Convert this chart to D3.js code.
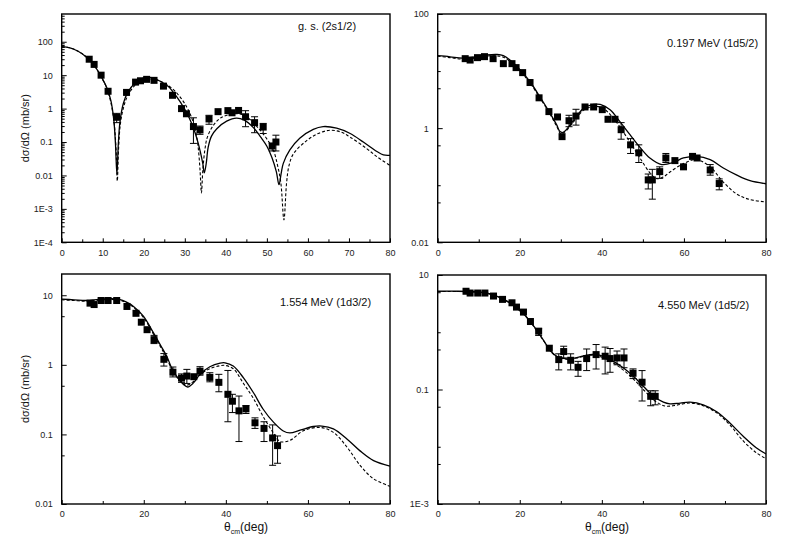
<!DOCTYPE html>
<html><head><meta charset="utf-8">
<script src="https://cdn.jsdelivr.net/npm/d3@7"></script>
<style>body{margin:0;background:#fff}svg{display:block}text{font-family:Arial,"Liberation Sans",sans-serif}</style>
</head><body>
<svg id="chart" width="786" height="548"></svg>
<script>
// ---------- Panel 1: g.s. (2s1/2) ----------
const p1DataX = [6.7, 7.9, 9.6, 11.3, 13.4, 15.8, 18.0, 19.2, 20.7, 22.5, 24.8, 27.0, 29.2, 30.4, 32.1, 33.7, 35.9, 38.1, 40.5, 41.5, 43.1, 44.8, 47.0, 49.1, 51.3, 52.2];
const p1DataY = [30, 21, 10, 3.3, 0.55, 3.05, 6.2, 6.8, 7.5, 7.0, 4.7, 2.5, 1.0, 0.70, 0.29, 0.23, 0.49, 0.81, 0.87, 0.75, 0.88, 0.57, 0.38, 0.28, 0.076, 0.10];
const p1ErrLo = [null,null,null,null,0.38,null,null,null,null,null,null,null,null,null,0.091,0.17,0.34,null,null,null,null,0.287,0.19,0.18,0.054,0.054];
const p1ErrHi = [null,null,null,null,0.72,null,null,null,null,null,null,null,null,null,0.53,0.30,0.63,null,null,null,null,0.865,0.57,0.36,0.091,0.16];
const p1Solid = [[0,71],[2,66],[4,52],[6,35],[8,19],[10,7.5],[11,4.2],[12,1.7],[12.7,0.45],[13.1,0.09],[13.45,0.011],[13.8,0.09],[14.2,0.4],[15,1.4],[16,2.9],[18,6.0],[20,8.3],[21,8.6],[22,8.4],[24,6.6],[26,4.6],[27,3.3],[28,2.3],[29,1.5],[30,0.95],[31,0.55],[32,0.28],[33,0.12],[33.8,0.05],[34.4,0.022],[34.75,0.012],[35.2,0.022],[35.7,0.07],[36.5,0.15],[37.8,0.25],[40.2,0.42],[42.6,0.52],[44.5,0.45],[46.7,0.27],[48.5,0.14],[50,0.075],[51.2,0.035],[52.3,0.013],[52.95,0.0053],[53.5,0.012],[54,0.023],[55.6,0.058],[58,0.13],[61.3,0.24],[63.7,0.29],[67,0.26],[70.3,0.18],[73.5,0.10],[76.8,0.052],[78.4,0.041],[80,0.040]];
const p1Dashed = [[0,71],[2,66],[4,52],[6,35],[8,19],[10,7.3],[11,4.0],[12,1.5],[12.8,0.35],[13.25,0.06],[13.55,0.0068],[13.85,0.06],[14.3,0.35],[15,1.0],[16,2.3],[18,5.2],[20,7.2],[21.5,7.6],[23,7.2],[25,5.8],[27,3.9],[29,2.1],[30.5,1.1],[31.5,0.6],[32.5,0.25],[33.2,0.08],[33.7,0.015],[34.05,0.003],[34.4,0.015],[34.9,0.06],[35.5,0.14],[37,0.32],[39,0.55],[42.7,0.70],[45,0.57],[48.3,0.23],[50.5,0.1],[51.6,0.057],[52.6,0.02],[53.4,0.006],[54.15,0.00047],[54.8,0.006],[55.4,0.02],[56.5,0.045],[59.7,0.11],[62.5,0.18],[65.4,0.225],[68,0.2],[70.3,0.14],[74.3,0.064],[77,0.035],[80,0.020]];
const p1YTicks = [100, 10, 1, 0.1, 0.01, 1e-3, 1e-4];
const p1YLabels = ["100", "10", "1", "0.1", "0.01", "1E-3", "1E-4"];
const p1XTicks = [0, 10, 20, 30, 40, 50, 60, 70, 80];

// ---------- Panel 2: 0.197 MeV (1d5/2) ----------
const p2DataX = [6.7, 7.9, 9.7, 11.4, 13.5, 16.0, 18.1, 19.1, 20.7, 22.5, 24.7, 27.1, 29.2, 30.3, 32.0, 33.7, 35.9, 38.0, 40.1, 41.5, 43.2, 44.7, 47.0, 49.0, 51.3, 52.3, 54.1, 55.6, 57.8, 59.9, 62.1, 63.2, 66.4, 68.6];
const p2DataY = [16.5, 15.6, 17.2, 17.9, 16.5, 13.5, 13.5, 11.5, 9.4, 6.3, 3.4, 1.95, 1.57, 0.71, 1.35, 1.63, 2.35, 2.35, 2.11, 1.43, 1.43, 0.94, 0.51, 0.37, 0.124, 0.124, 0.173, 0.30, 0.27, 0.21, 0.32, 0.30, 0.185, 0.107];
const p2ErrLo = [null,null,null,null,null,null,null,null,null,null,null,null,null,null,1.06,1.13,null,null,null,null,null,0.64,0.36,0.25,0.086,0.057,0.132,0.25,null,null,null,null,0.15,0.083];
const p2ErrHi = [null,null,null,null,null,null,null,null,null,null,null,null,null,null,1.68,2.14,null,null,null,null,null,1.25,0.655,0.51,0.157,0.19,0.21,0.36,null,null,null,null,0.23,0.129];
const p2Solid = [[0,18.6],[3,17.8],[6,16.8],[9,17.6],[12,19.2],[14.5,19.6],[16,18.6],[17.6,15.6],[20,10.7],[22.5,6.5],[24.9,3.55],[27.4,1.82],[29,1.14],[29.8,0.87],[30.5,0.84],[31.4,0.95],[33.5,1.5],[35.5,2.2],[37.9,2.6],[39.6,2.6],[42,2.1],[44.4,1.3],[46.9,0.76],[49.3,0.46],[51.7,0.30],[54.6,0.23],[57.4,0.25],[59.9,0.30],[63.1,0.32],[66.4,0.28],[69.6,0.2],[72.9,0.15],[76.1,0.12],[80,0.106]];
const p2Dashed = [[0,18.2],[3,17.2],[6,16.2],[9,16.8],[12,18.3],[14.5,18.5],[16,17.5],[17.6,14.8],[20,10.2],[22.5,6.2],[24.9,3.4],[27.4,1.75],[29,1.08],[30,0.8],[31,0.86],[33.5,1.4],[35.5,2.05],[38,2.4],[40,2.3],[42,1.75],[44.4,1.05],[46.9,0.56],[49.3,0.3],[51.7,0.165],[53.4,0.13],[55,0.14],[56.6,0.17],[59.9,0.24],[63.1,0.28],[66.4,0.21],[69.6,0.113],[72.9,0.07],[76.1,0.056],[80,0.051]];
const p2YTicks = [100, 1, 0.01];
const p2YLabels = ["100", "1", "0.01"];
const p2YMinor = [50, 10, 5, 0.5, 0.1, 0.05];
const p2XTicks = [0, 20, 40, 60, 80];

// ---------- Panel 3: 1.554 MeV (1d3/2) ----------
const p3DataX = [6.9, 7.9, 9.6, 11.3, 13.4, 15.9, 18.1, 19.4, 20.8, 22.5, 24.9, 27.1, 29.2, 30.5, 32.2, 33.7, 36.1, 38.3, 40.5, 41.6, 43.2, 44.9, 47.1, 49.3, 51.4, 52.6];
const p3DataY = [7.7, 7.35, 8.4, 8.4, 8.4, 6.9, 5.5, 4.1, 3.2, 2.3, 1.2, 0.785, 0.645, 0.69, 0.675, 0.81, 0.66, 0.56, 0.377, 0.30, 0.218, 0.233, 0.147, 0.122, 0.089, 0.069];
const p3ErrLo = [null,null,null,null,null,null,null,null,null,2.02,0.96,0.67,0.56,0.54,null,0.71,0.57,0.41,0.152,0.206,0.079,0.2,0.122,0.079,0.036,0.0385];
const p3ErrHi = [null,null,null,null,null,null,null,null,null,2.65,1.45,0.93,0.74,0.86,null,0.94,0.77,0.73,0.83,0.377,0.356,0.26,0.173,0.152,0.137,0.095];
const p3Solid = [[0,8.8],[3,8.6],[6,8.4],[9,8.7],[12,8.9],[14,8.7],[15.8,7.95],[17.5,6.9],[19.9,5.0],[22.3,2.93],[24,1.95],[25.6,1.33],[26.8,0.9],[28,0.69],[29.7,0.52],[30.7,0.48],[32.1,0.55],[33.7,0.73],[36.1,0.94],[38.6,1.06],[39.8,1.07],[41.8,0.96],[44.3,0.65],[46.7,0.4],[49.1,0.23],[51.6,0.15],[54,0.112],[55.6,0.105],[58.1,0.115],[61.3,0.13],[63.4,0.132],[66.2,0.12],[69.5,0.086],[72.7,0.058],[76,0.042],[80,0.035]];
const p3Dashed = [[0,8.6],[3,8.4],[6,8.2],[9,8.5],[12,8.7],[14,8.5],[15.8,7.8],[17.5,6.7],[19.9,4.8],[22.3,2.8],[24,1.85],[25.6,1.25],[26.8,0.86],[28,0.67],[29.7,0.53],[30.5,0.51],[32,0.57],[33.7,0.72],[36.1,0.88],[38.6,0.97],[39.8,0.98],[41.8,0.88],[44.3,0.54],[46.7,0.33],[49.1,0.18],[51.6,0.105],[53.2,0.079],[55.6,0.082],[58.9,0.113],[63,0.126],[66.2,0.107],[69.5,0.066],[72.7,0.036],[76,0.023],[80,0.018]];
const p3YTicks = [10, 1, 0.1, 0.01];
const p3YLabels = ["10", "1", "0.1", "0.01"];
const p3YMinor = [5, 0.5, 0.05];
const p3XTicks = [0, 20, 40, 60, 80];

// ---------- Panel 4: 4.550 MeV (1d5/2) ----------
const p4DataX = [6.9, 7.9, 9.75, 11.5, 13.6, 15.8, 18.1, 19.2, 20.9, 22.6, 24.6, 27.2, 29.5, 30.7, 32.4, 34.2, 36.3, 38.6, 40.8, 42.0, 43.7, 45.4, 47.6, 49.8, 51.9, 53.0];
const p4DataY = [5.2, 4.84, 4.84, 4.84, 4.29, 3.75, 3.27, 2.75, 2.25, 1.54, 1.045, 0.526, 0.333, 0.46, 0.324, 0.244, 0.347, 0.407, 0.381, 0.347, 0.356, 0.356, 0.192, 0.134, 0.076, 0.076];
const p4ErrLo = [null,null,null,null,null,null,null,null,null,null,0.88,null,0.22,0.356,0.22,0.17,0.214,0.228,0.187,0.2,0.27,0.24,0.155,0.063,0.052,0.054];
const p4ErrHi = [null,null,null,null,null,null,null,null,null,null,1.15,null,0.42,0.57,0.42,0.31,0.51,0.61,0.55,0.52,0.47,0.51,0.229,0.214,0.095,0.095];
const p4Solid = [[0,5.2],[5,5.2],[9,5.1],[11.5,4.9],[13.6,4.5],[16,3.8],[18.4,2.98],[20.9,2.1],[22.5,1.56],[24.1,1.09],[25.8,0.72],[27.4,0.48],[29,0.38],[30.6,0.35],[31.8,0.34],[33.9,0.36],[36.3,0.40],[37.9,0.41],[40.4,0.38],[42.8,0.31],[45.2,0.24],[47.7,0.17],[50.1,0.114],[52.6,0.076],[55,0.06],[56.6,0.056],[59.1,0.058],[61.5,0.06],[64.7,0.054],[68,0.041],[71.2,0.026],[74.5,0.0151],[77.7,0.0095],[80,0.0075]];
const p4Dashed = [[0,5.15],[5,5.15],[9,5.05],[11.5,4.85],[13.6,4.45],[16,3.75],[18.4,2.95],[20.9,2.08],[22.5,1.54],[24.1,1.07],[25.8,0.71],[27.4,0.475],[29,0.375],[30.6,0.345],[31.8,0.338],[33.9,0.355],[36.3,0.39],[37.9,0.395],[40.4,0.36],[42.8,0.29],[45.2,0.22],[47.7,0.152],[50.1,0.1],[52.6,0.066],[54.5,0.054],[55.8,0.051],[58,0.053],[61.5,0.058],[64.7,0.052],[68,0.039],[71.2,0.024],[74.5,0.0125],[77.7,0.0078],[80,0.0062]];
const p4YTicks = [10, 0.1, 1e-3];
const p4YLabels = ["10", "0.1", "1E-3"];
const p4YMinor = [5, 1, 0.5, 0.05, 0.01, 0.005];
const p4XTicks = [0, 20, 40, 60, 80];

const panelLabels = ["g. s. (2s1/2)", "0.197 MeV (1d5/2)", "1.554 MeV (1d3/2)", "4.550 MeV (1d5/2)"];
const yTitle = "dσ/dΩ (mb/sr)";

// log minor ticks 2..9 for panel 1
const p1YMinor = [];
for (let e = -4; e <= 2; e++) for (let m = 2; m <= 9; m++) { const v = m * Math.pow(10, e); if (v < 680) p1YMinor.push(v); }

const panels = [
  {x0:61.7, x1:390, y0:14, y1:242.3, yDom:[1e-4, Math.pow(10,2.83)], dx:p1DataX, dy:p1DataY, lo:p1ErrLo, hi:p1ErrHi, solid:p1Solid, dashed:p1Dashed, yt:p1YTicks, yl:p1YLabels, ym:p1YMinor, xt:p1XTicks, xm:[5,15,25,35,45,55,65,75], label:panelLabels[0], lx:298, ly:30, ytitle:true, xtitle:false},
  {x0:437.7, x1:766, y0:14, y1:242.3, yDom:[0.01, 100], dx:p2DataX, dy:p2DataY, lo:p2ErrLo, hi:p2ErrHi, solid:p2Solid, dashed:p2Dashed, yt:p2YTicks, yl:p2YLabels, ym:p2YMinor, xt:p2XTicks, xm:[10,30,50,70], label:panelLabels[1], lx:667, ly:47, ytitle:false, xtitle:false},
  {x0:61.7, x1:390, y0:274, y1:504, yDom:[0.01, 20.2], dx:p3DataX, dy:p3DataY, lo:p3ErrLo, hi:p3ErrHi, solid:p3Solid, dashed:p3Dashed, yt:p3YTicks, yl:p3YLabels, ym:p3YMinor, xt:p3XTicks, xm:[10,30,50,70], label:panelLabels[2], lx:280, ly:306, ytitle:true, xtitle:true, xtx:224},
  {x0:437.7, x1:766, y0:275, y1:504, yDom:[1e-3, 10], dx:p4DataX, dy:p4DataY, lo:p4ErrLo, hi:p4ErrHi, solid:p4Solid, dashed:p4Dashed, yt:p4YTicks, yl:p4YLabels, ym:p4YMinor, xt:p4XTicks, xm:[10,30,50,70], label:panelLabels[3], lx:658, ly:309, ytitle:false, xtitle:true, xtx:585}
];

const svg = d3.select("#chart");

panels.forEach((p, i) => {
  const x = d3.scaleLinear().domain([0, 80]).range([p.x0, p.x1]);
  const y = d3.scaleLog().domain(p.yDom).range([p.y1, p.y0]);
  const g = svg.append("g");
  const clipId = "clip" + i;
  g.append("clipPath").attr("id", clipId).append("rect")
    .attr("x", p.x0).attr("y", p.y0).attr("width", p.x1 - p.x0).attr("height", p.y1 - p.y0);

  // bottom axis (ticks inward)
  const xAxis = d3.axisBottom(x).tickValues(p.xt).tickSize(-4).tickPadding(7).tickFormat(d3.format("d"));
  const gx = g.append("g").attr("transform", `translate(0,${p.y1})`).call(xAxis);
  gx.select(".domain").remove();
  gx.selectAll("text").attr("font-size", 9).attr("fill", "#222").attr("font-family", "Arial, 'Liberation Sans', sans-serif");
  gx.selectAll("line").attr("stroke", "#000").attr("stroke-width", 1);
  const xAxisMinor = d3.axisBottom(x).tickValues(p.xm).tickSize(-3).tickFormat("");
  const gxm = g.append("g").attr("transform", `translate(0,${p.y1})`).call(xAxisMinor);
  gxm.select(".domain").remove();
  gxm.selectAll("line").attr("stroke", "#000").attr("stroke-width", 1);

  // left axis
  const yAxis = d3.axisLeft(y).tickValues(p.yt).tickSize(-5).tickPadding(9).tickFormat((d, k) => p.yl[k]);
  const gy = g.append("g").attr("transform", `translate(${p.x0},0)`).call(yAxis);
  gy.select(".domain").remove();
  gy.selectAll("text").attr("font-size", 9).attr("fill", "#222").attr("font-family", "Arial, 'Liberation Sans', sans-serif");
  gy.selectAll("line").attr("stroke", "#000").attr("stroke-width", 1);
  const yAxisMinor = d3.axisLeft(y).tickValues(p.ym).tickSize(-3).tickFormat("");
  const gym = g.append("g").attr("transform", `translate(${p.x0},0)`).call(yAxisMinor);
  gym.select(".domain").remove();
  gym.selectAll("line").attr("stroke", "#000").attr("stroke-width", 1);

  // curves
  const line = d3.line().x(d => x(d[0])).y(d => y(d[1])).curve(d3.curveCatmullRom.alpha(0.5));
  const curves = g.append("g").attr("clip-path", `url(#${clipId})`);
  curves.append("path").datum(p.dashed).attr("d", line)
    .attr("fill", "none").attr("stroke", "#000").attr("stroke-width", 1.1).attr("stroke-dasharray", "3,2");
  curves.append("path").datum(p.solid).attr("d", line)
    .attr("fill", "none").attr("stroke", "#000").attr("stroke-width", 1.3);

  // error bars
  const pts = p.dx.map((d, k) => ({x: d, y: p.dy[k], lo: p.lo[k], hi: p.hi[k]}));
  const eb = g.append("g").attr("stroke", "#000").attr("stroke-width", 1);
  pts.filter(d => d.lo != null).forEach(d => {
    eb.append("line").attr("x1", x(d.x)).attr("x2", x(d.x)).attr("y1", y(d.lo)).attr("y2", y(d.hi));
    eb.append("line").attr("x1", x(d.x) - 3.5).attr("x2", x(d.x) + 3.5).attr("y1", y(d.lo)).attr("y2", y(d.lo));
    eb.append("line").attr("x1", x(d.x) - 3.5).attr("x2", x(d.x) + 3.5).attr("y1", y(d.hi)).attr("y2", y(d.hi));
  });
  // markers
  const ms = 7;
  g.append("g").selectAll("rect").data(pts).join("rect")
    .attr("x", d => x(d.x) - ms / 2).attr("y", d => y(d.y) - ms / 2)
    .attr("width", ms).attr("height", ms).attr("fill", "#000");

  // frame
  g.append("rect").attr("x", p.x0).attr("y", p.y0).attr("width", p.x1 - p.x0).attr("height", p.y1 - p.y0)
    .attr("fill", "none").attr("stroke", "#000").attr("stroke-width", 1.4);

  // panel label
  g.append("text").attr("x", p.lx).attr("y", p.ly).attr("font-size", 11).attr("fill", "#111").text(p.label);

  if (p.ytitle) {
    const cy = (p.y0 + p.y1) / 2;
    g.append("text").attr("transform", `translate(29,${cy}) rotate(-90)`).attr("text-anchor", "middle")
      .attr("font-size", 11).attr("fill", "#111").text(yTitle);
  }
  if (p.xtitle) {
    const t = g.append("text").attr("x", p.xtx).attr("y", 531).attr("font-size", 12).attr("fill", "#111");
    t.append("tspan").text("θ");
    t.append("tspan").attr("font-size", 7).attr("dy", 3).text("cm");
    t.append("tspan").attr("dy", -3).text("(deg)");
  }
});
</script>
</body></html>
